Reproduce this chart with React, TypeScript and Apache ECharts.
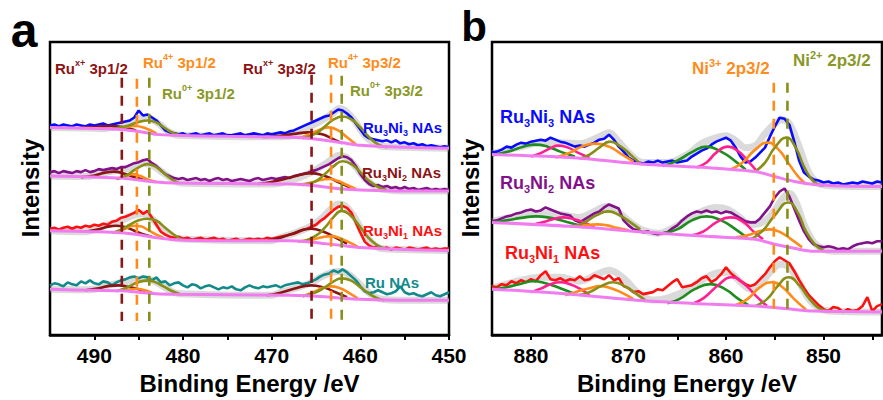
import React, { useEffect, useRef } from 'react';
import * as echarts from 'echarts';

type Pt = [number, number];

const FONT = '"Liberation Sans", Arial, Helvetica, sans-serif';

// ---------- Ru 3p region (panel a), raw spectra sampled every 0.5 eV from 495 eV ----------
const ruStartEV = 495;
const ruStepEV = 0.5;

const ru3ni3RuRaw = [211, 212, 210, 212, 211, 210, 212, 211, 210, 212, 211, 212, 213, 211, 212, 213, 214, 215, 216, 219, 226, 221, 222, 219, 216, 211, 206, 204, 203, 202, 203, 201, 202, 203, 201, 202, 203, 201, 202, 203, 201, 201, 202, 203, 201, 202, 203, 202, 201, 203, 202, 203, 204, 203, 205, 206, 208, 210, 212, 214, 216, 218, 220, 221, 224, 227, 226, 223, 219, 213, 207, 201, 198, 197, 196, 195, 196, 194, 196, 193, 194, 192, 193, 191, 192, 190, 191, 190, 189, 190, 189];
const ru3ni2RuRaw = [164, 165, 163, 165, 164, 163, 165, 164, 166, 164, 165, 167, 166, 167, 168, 167, 169, 169, 171, 173, 174, 176, 177, 173, 170, 166, 162, 160, 158, 157, 158, 156, 157, 158, 156, 157, 155, 157, 158, 156, 157, 155, 156, 157, 156, 155, 157, 158, 156, 157, 158, 157, 158, 159, 158, 160, 161, 162, 163, 165, 166, 168, 170, 172, 175, 178, 180, 179, 176, 170, 162, 156, 152, 150, 151, 149, 150, 148, 149, 147, 149, 147, 148, 146, 147, 148, 146, 147, 146, 147, 146];
const ru3ni1RuRaw = [107, 108, 106, 108, 109, 107, 109, 108, 110, 109, 111, 110, 112, 111, 114, 115, 118, 119, 121, 123, 126, 122, 125, 118, 111, 104, 101, 99, 98, 99, 97, 98, 96, 97, 98, 96, 97, 98, 96, 97, 95, 96, 97, 95, 96, 97, 96, 97, 96, 98, 97, 98, 99, 100, 101, 102, 104, 106, 107, 109, 111, 115, 118, 122, 126, 129, 130, 128, 123, 113, 103, 94, 90, 88, 89, 87, 88, 86, 88, 87, 86, 88, 87, 86, 87, 88, 86, 87, 86, 87, 87];
const ruRuRaw = [50, 52, 51, 49, 53, 51, 50, 54, 52, 55, 52, 51, 54, 53, 50, 53, 55, 56, 58, 59, 57, 59, 58, 55, 58, 53, 54, 50, 52, 53, 50, 48, 51, 50, 47, 49, 50, 48, 46, 48, 47, 49, 46, 45, 48, 50, 48, 47, 49, 48, 49, 50, 48, 50, 51, 52, 53, 51, 52, 54, 56, 59, 61, 62, 65, 63, 66, 63, 59, 55, 49, 44, 42, 43, 45, 43, 41, 42, 44, 49, 43, 41, 42, 40, 39, 41, 43, 40, 39, 41, 43];

// Shirley-type backgrounds (binding energy, intensity)
const ruBgEV = [495, 490, 487, 485, 483, 481, 475, 468, 466, 464, 462, 460, 455, 450];
const ru3ni3RuBg = [209, 208, 207, 205, 202, 201, 200, 199, 198, 196, 193.5, 191, 189, 188];
const ru3ni2RuBg = [160, 159, 158, 156, 154, 153, 152.5, 152, 151, 149, 147, 146, 145, 145];
const ru3ni1RuBg = [105, 104, 103, 101, 98, 96, 95, 95, 94, 92, 90, 88, 86, 85];
const ruRuBg = [46, 45, 44.5, 43, 41.5, 41, 40.5, 40, 39.5, 38.5, 37, 36, 35, 35];

// Fitted components: Ru(x+) 3p1/2, Ru4+ 3p1/2, Ru0 3p1/2, Ru(x+) 3p3/2, Ru4+ 3p3/2, Ru0 3p3/2
const ru3ni3RuFits: Pt[][] = [
  [[491.5, 208.5], [489.8, 209.5], [488.2, 210.5], [486.8, 209.5], [485.3, 206]],
  [[488, 207.5], [486.8, 209], [485.5, 210.5], [484.3, 208.5], [483, 203]],
  [[488, 207.5], [486.5, 210], [485, 214.5], [484, 216], [483, 214], [482, 208], [481, 203], [480, 201]],
  [[471, 199.5], [469, 200.5], [467.5, 202.5], [465.8, 204], [464.3, 202], [463, 197], [462, 193]],
  [[467, 198], [465.5, 203], [464.5, 207], [463.6, 209], [462.5, 206], [461.5, 199], [460.5, 192]],
  [[466.5, 198], [465, 203], [464, 210], [463, 217], [462, 220], [461, 217], [460, 209], [459, 199], [458, 192], [457, 189]],
];
const ru3ni2RuFits: Pt[][] = [
  [[491.5, 159], [490, 160.5], [488.8, 163.5], [487.8, 164.5], [486.5, 162], [485.5, 159], [484.2, 155.5]],
  [[487.5, 157], [486.5, 160], [485.7, 162], [484.8, 160], [483.8, 156], [483, 154]],
  [[487.5, 157], [486.5, 160], [485.5, 166], [484.5, 171], [484, 172], [483.2, 170], [482.3, 164], [481.3, 157], [480.5, 153]],
  [[471.5, 152], [469.5, 155], [467.5, 159.5], [465.6, 163], [464, 160], [462.5, 154], [461, 148]],
  [[467, 151], [465.5, 153.5], [464.5, 156], [463.5, 157], [462.5, 155], [461.5, 151], [460.5, 147]],
  [[466.5, 151], [465, 155], [464, 162], [463, 170], [462, 175], [461, 172], [460, 164], [459, 155], [458, 149], [457, 146]],
];
const ru3ni1RuFits: Pt[][] = [
  [[491, 104], [489.5, 106.5], [488.5, 109], [487.6, 110], [486.5, 108.5], [485.5, 105], [484.5, 101.5], [483.5, 99]],
  [[487.5, 103], [486.5, 107], [485.5, 110], [484.8, 109.5], [484, 106], [483, 101], [482.2, 98]],
  [[488, 103], [487, 106], [486, 111], [485, 115.5], [484, 117], [483, 115], [482, 108], [481, 101], [480.2, 96.5]],
  [[470.5, 95], [469, 98], [467.5, 102.5], [465.6, 107], [464, 103.5], [462.8, 98], [461.5, 92]],
  [[467, 94], [465.5, 96], [464.3, 98.5], [463.3, 99.5], [462.3, 97.5], [461.3, 93.5], [460.3, 89]],
  [[466.5, 94], [465, 100], [464, 108], [463, 119], [462.1, 125], [461.2, 121], [460.2, 111], [459.2, 99], [458.2, 91], [457.2, 87]],
];
const ruRuFits: Pt[][] = [
  [[491, 45], [489.5, 47], [488.3, 49.5], [487.3, 50], [486.2, 48.5], [485, 46], [484, 43]],
  [[487, 44.5], [486, 45.5], [485.3, 46.5], [484.5, 45.5], [483.5, 42.5]],
  [[487.5, 44], [486.5, 47], [485.5, 51.5], [484.5, 54.5], [484, 55], [483.2, 53.5], [482.2, 49], [481.2, 44], [480.3, 41]],
  [[470.5, 40], [469, 42.5], [467.5, 46.5], [465.6, 50], [464, 47.5], [462.8, 43], [461.5, 38]],
  [[466.5, 39], [465.3, 43], [464.2, 47.5], [463.3, 49], [462.3, 47], [461.3, 42.5], [460.3, 37]],
  [[466.5, 39], [465, 43], [464, 48], [463, 54], [462.1, 57], [461.1, 55], [460.1, 49], [459.1, 42], [458.1, 37], [457.3, 35]],
];

// Cumulative fit envelopes
const ru3ni3RuEnvelope: Pt[] = [[495, 209], [491, 208.5], [489, 208], [487, 211], [486, 214], [485, 218], [484.3, 219], [483.5, 217], [482.5, 211], [481.5, 204], [480.5, 201], [470, 199.5], [468, 200], [466.5, 206], [465, 213], [464, 218], [463, 224], [462.4, 228], [461.6, 225], [460.6, 215], [459.6, 202], [458.6, 194], [457.6, 190], [455, 189], [450, 188]];
const ru3ni2RuEnvelope: Pt[] = [[495, 160], [491, 159.5], [490, 160.5], [488, 165], [486.5, 167], [485.2, 171], [484.3, 173], [483.3, 170], [482.2, 163], [481.2, 157], [480.3, 153], [470, 152], [469, 153], [467, 158], [465.5, 164], [464.2, 171], [463.2, 177], [462.4, 181], [461.6, 179], [460.6, 170], [459.6, 159], [458.6, 151], [457.6, 147], [455, 145], [450, 145]];
const ru3ni1RuEnvelope: Pt[] = [[495, 105], [491, 104], [490, 106], [488.5, 111], [487, 115], [485.8, 120], [484.6, 122], [483.6, 118], [482.6, 109], [481.6, 101], [480.6, 97], [470, 95], [469, 98], [467, 104], [465.5, 110], [464.3, 118], [463.3, 127], [462.5, 132], [461.7, 130], [460.7, 119], [459.7, 104], [458.7, 93], [457.7, 87], [455, 86], [450, 85]];
const ruRuEnvelope: Pt[] = [[495, 46], [491, 45.5], [490, 46], [488.5, 50], [487, 52.5], [485.5, 55.5], [484.5, 56.5], [483.5, 55], [482.5, 50.5], [481.5, 45], [480.5, 41.5], [470, 40], [469, 43], [467, 48], [465.5, 53], [464.3, 59], [463.2, 63], [462.4, 64], [461.5, 62], [460.5, 55], [459.5, 46], [458.5, 39], [457.5, 36], [455, 35], [450, 35]];

// Peak position markers (eV) and their vertical extent
const ruMarkEV = [486.9, 485.2, 483.8, 465.5, 463.3, 462.1];
const ruMarkTop = [259, 258, 259, 262, 262, 261];
const ruMarkBottom = 14;

// ---------- Ni 2p region (panel b), raw spectra sampled every 0.5 eV from 884 eV ----------
const niStartEV = 884;
const niStepEV = 0.5;

const ru3ni3NiRaw = [183, 184, 186, 189, 188, 191, 193, 192, 194, 195, 196, 195, 198, 196, 194, 193, 191, 189, 190, 189, 191, 193, 196, 197, 201, 196, 189, 184, 178, 175, 173, 172, 174, 173, 175, 173, 174, 175, 173, 174, 175, 179, 182, 185, 187, 191, 194, 196, 198, 195, 188, 179, 173, 174, 178, 183, 188, 199, 209, 218, 217, 211, 194, 175, 163, 159, 156, 155, 153, 154, 152, 153, 151, 152, 153, 152, 154, 153, 152, 154, 153];
const ru3ni2NiRaw = [114, 115, 117, 119, 120, 122, 123, 125, 126, 124, 125, 128, 126, 124, 122, 121, 120, 115, 113, 116, 119, 122, 124, 128, 131, 129, 127, 115, 110, 106, 105, 103, 104, 102, 101, 102, 103, 107, 110, 115, 119, 122, 124, 123, 125, 123, 124, 122, 124, 123, 120, 117, 114, 113, 113, 117, 123, 129, 138, 144, 147, 139, 127, 115, 104, 96, 91, 89, 88, 89, 88, 86, 87, 86, 89, 91, 92, 93, 92, 94, 94];
const ru3ni1NiRaw = [49, 48, 51, 50, 54, 52, 55, 53, 56, 54, 60, 64, 56, 55, 57, 54, 56, 55, 59, 55, 56, 60, 58, 56, 60, 55, 57, 49, 47, 43, 44, 41, 42, 43, 46, 45, 49, 53, 56, 48, 49, 50, 53, 57, 59, 53, 56, 61, 68, 62, 58, 54, 51, 49, 51, 56, 61, 68, 74, 78, 75, 72, 64, 55, 47, 40, 35, 30, 26, 24, 28, 27, 23, 26, 24, 25, 29, 38, 24, 29, 31];

const niBgEV = [884, 876, 868, 862, 857, 855, 853, 851, 848, 844];
const ru3ni3NiBg = [181, 178, 171, 168, 164, 159, 154, 151, 149.5, 149];
const ru3ni2NiBg = [113, 109, 103, 99, 96, 91, 87, 84, 84, 84];
const ru3ni1NiBg = [46, 41, 34, 31, 29, 27.5, 25.5, 24, 23.5, 23];

// Components: sat., sat., Ni3+ 2p1/2, Ni2+ 2p1/2, sat., sat., Ni3+ 2p3/2, Ni2+ 2p3/2
const ru3ni3NiFits: Pt[][] = [
  [[884, 180.5], [882, 185], [880.8, 189], [879.6, 191], [878.3, 189], [877, 184], [875.5, 179]],
  [[880, 179], [879, 182.5], [878, 187.5], [877.2, 190], [876.2, 188], [875.2, 183], [874, 178]],
  [[877.5, 178], [876, 183], [874.8, 189], [873.4, 192], [872, 189], [870.8, 182], [869.5, 174]],
  [[875, 177], [874, 181], [873, 188], [871.9, 194], [870.8, 189], [869.8, 181], [868.8, 172]],
  [[866.5, 169.5], [865, 175], [863.5, 183.5], [862, 189], [860.5, 184], [859, 174], [858, 166]],
  [[863, 168], [862, 173], [861, 183], [859.8, 189], [858.7, 184], [857.7, 174], [856.8, 164]],
  [[859.5, 166], [858.3, 173], [857, 186], [855.7, 193], [854.6, 186], [853.5, 171], [852.5, 158], [851.7, 151]],
  [[857, 164], [856, 173], [855, 188], [853.8, 198], [852.8, 187], [852, 169], [851, 154], [850, 150]],
];
const ru3ni2NiFits: Pt[][] = [
  [[884, 113], [882.5, 115], [881, 117.5], [879.5, 119], [878, 117.5], [876.5, 114], [875, 110]],
  [[879.5, 111.5], [878.5, 114], [877.5, 117], [876.7, 118], [875.7, 116.5], [874.7, 113.5], [873.5, 108]],
  [[876, 109], [875, 109.5], [874, 110.5], [873.2, 111], [872.2, 110], [871.2, 107.5], [870, 105]],
  [[875.5, 109], [874.5, 113], [873.3, 120], [872.1, 124], [870.9, 120], [869.8, 113], [868.8, 106]],
  [[866.5, 102], [865, 106], [863.5, 115], [862, 119], [860.5, 115], [859, 106], [857.8, 97]],
  [[863.5, 100], [862.3, 104], [861, 113], [859.6, 118], [858.3, 114], [857.2, 104], [856.2, 96]],
  [[859, 98], [857.8, 100], [856.6, 104], [855.5, 106], [854.4, 103], [853.3, 96], [852.2, 88]],
  [[857.5, 96], [856.3, 104], [855, 120], [853.6, 133], [852.6, 122], [851.8, 104], [850.8, 90], [850, 85]],
];
const ru3ni1NiFits: Pt[][] = [
  [[884, 46], [882.5, 48], [881, 51.5], [879.8, 54], [878.5, 52], [877, 47], [875.7, 42]],
  [[880, 43], [879, 46.5], [878, 51], [877, 53], [876, 51], [875, 46.5], [874, 40]],
  [[876.5, 40], [875.3, 43.5], [874, 47], [872.9, 49], [871.8, 47], [870.7, 42.5], [869.5, 36]],
  [[875, 40], [874, 43], [872.8, 49], [871.6, 53], [870.4, 49], [869.3, 42], [868.3, 35]],
  [[866, 32], [864.8, 36], [863.2, 46], [861.6, 51], [860.1, 46], [858.7, 36], [857.7, 30]],
  [[863.5, 31], [862.3, 37], [860.8, 50], [859.4, 58], [858.1, 51], [856.9, 39], [855.8, 29]],
  [[859, 30], [857.8, 36], [856.5, 48], [855.3, 53], [854.2, 48], [853, 36], [851.8, 25.5]],
  [[857, 29], [855.8, 36], [854.7, 49], [853.6, 58], [852.5, 50], [851.5, 37], [850.5, 27], [849.5, 24]],
];

const ru3ni3NiEnvelope: Pt[] = [[884, 182], [881, 189], [879, 193], [877, 193], [875, 192], [873, 199], [872, 203], [871, 194], [870, 183], [868.5, 173], [866, 173], [864, 181], [862.5, 192], [861, 198], [860, 200], [859, 195], [858, 188], [857, 190], [856, 202], [855, 212], [854.3, 216], [853.5, 212], [852.5, 189], [851.5, 163], [850.5, 152], [849, 149.5], [844, 149]];
const ru3ni2NiEnvelope: Pt[] = [[884, 114], [881, 120], [879, 122], [877, 121], [875, 118], [873.5, 124], [872.3, 129], [871, 123], [869.8, 113], [868.5, 105], [867, 102], [865.5, 107], [864, 116], [862.5, 124], [861, 128], [859.8, 126], [858.6, 118], [857.5, 111], [856.5, 112], [855.3, 121], [854.2, 137], [853.5, 142], [852.8, 133], [852, 111], [851, 93], [850, 86], [849, 84], [844, 84]];
const ru3ni1NiEnvelope: Pt[] = [[884, 47], [881, 55], [879, 58], [877, 58], [875, 54], [873.2, 61], [872, 65], [870.5, 57], [869, 42], [867.5, 35], [866, 37], [864, 45], [862.5, 55], [861, 62], [859.8, 63], [858.6, 54], [857.5, 46], [856.4, 52], [855.4, 64], [854.4, 71], [853.5, 68], [852.5, 53], [851.5, 36], [850.5, 27], [849.5, 24], [844, 23]];

const niMarkEV = [855.1, 853.7];
const niMarkTop = 253;
const niMarkBottom = 19;

// Tick positions
const ruTicks = [450, 455, 460, 465, 470, 475, 480, 485, 490];
const ruLabels = [450, 460, 470, 480, 490];
const niTicks = [845, 850, 855, 860, 865, 870, 875, 880];
const niLabels = [850, 860, 870, 880];

// ---------- colours ----------
const C = {
  blue: '#0a0aff',
  purple: '#82118a',
  red: '#ff1010',
  teal: '#138a8a',
  maroon: '#8b1414',
  orange: '#ff8c1a',
  olive: '#878f16',
  oliveText: '#8a9826',
  green: '#1e8c1e',
  magenta: '#ff1f8f',
  pink: '#f07cf0',
  shade: 'rgba(150,150,150,0.35)',
};
const ruFitColors = [C.maroon, C.orange, C.olive, C.maroon, C.orange, C.olive];
const niFitColors = [C.green, C.magenta, C.orange, C.olive, C.green, C.magenta, C.orange, C.olive];

const toPairs = (vals: number[], start: number, step: number): Pt[] =>
  vals.map((v, i) => [start - i * step, v]);
const zipPairs = (xs: number[], ys: number[]): Pt[] => xs.map((x, i) => [x, ys[i]]);

function lineSeries(data: Pt[], color: string, width: number, idx: number, smooth: number | boolean, extra: any = {}) {
  return {
    type: 'line',
    xAxisIndex: idx,
    yAxisIndex: idx,
    data,
    symbol: 'none',
    showSymbol: false,
    silent: true,
    smooth,
    lineStyle: { color, width, ...(extra.lineStyle || {}) },
    ...(extra.z !== undefined ? { z: extra.z } : {}),
  };
}

function spectrumSeries(idx: number, raw: Pt[], bg: Pt[], env: Pt[], fits: Pt[][], fitColors: string[], rawColor: string) {
  const out: any[] = [];
  out.push(lineSeries(env, C.shade, 7, idx, 0.35));
  out.push(lineSeries(raw, rawColor, 2.6, idx, false));
  fits.forEach((f, i) => out.push(lineSeries(f, fitColors[i], 2.6, idx, 0.5)));
  out.push(lineSeries(bg, C.pink, 3, idx, 0.3));
  return out;
}

function richText(size: number, color: string) {
  const base = { fontSize: size, fontWeight: 'bold', fontFamily: FONT, fill: color, lineHeight: size + 5 };
  return {
    n: base,
    sup: { fontSize: Math.round(size * 0.62), fontWeight: 'bold', fontFamily: FONT, fill: color, lineHeight: Math.round(size * 0.62), verticalAlign: 'top' },
    sub: { fontSize: Math.round(size * 0.62), fontWeight: 'bold', fontFamily: FONT, fill: color, lineHeight: Math.round(size * 0.62), verticalAlign: 'bottom' },
  };
}

function label(text: string, x: number, y: number, size: number, color: string) {
  return {
    type: 'text',
    x,
    y,
    silent: true,
    z: 100,
    style: {
      text,
      fill: color,
      font: `bold ${size}px ${FONT}`,
      align: 'left',
      verticalAlign: 'middle',
      rich: richText(size, color),
    },
  };
}

function plainText(text: string, x: number, y: number, size: number, extra: any = {}) {
  return {
    type: 'text',
    x,
    y,
    silent: true,
    z: 100,
    ...extra,
    style: {
      text,
      fill: '#000',
      font: `bold ${size}px ${FONT}`,
      align: 'center',
      verticalAlign: 'middle',
    },
  };
}

function buildOption() {
  const series: any[] = [];

  series.push(...spectrumSeries(0, toPairs(ru3ni3RuRaw, ruStartEV, ruStepEV), zipPairs(ruBgEV, ru3ni3RuBg), ru3ni3RuEnvelope, ru3ni3RuFits, ruFitColors, C.blue));
  series.push(...spectrumSeries(0, toPairs(ru3ni2RuRaw, ruStartEV, ruStepEV), zipPairs(ruBgEV, ru3ni2RuBg), ru3ni2RuEnvelope, ru3ni2RuFits, ruFitColors, C.purple));
  series.push(...spectrumSeries(0, toPairs(ru3ni1RuRaw, ruStartEV, ruStepEV), zipPairs(ruBgEV, ru3ni1RuBg), ru3ni1RuEnvelope, ru3ni1RuFits, ruFitColors, C.red));
  series.push(...spectrumSeries(0, toPairs(ruRuRaw, ruStartEV, ruStepEV), zipPairs(ruBgEV, ruRuBg), ruRuEnvelope, ruRuFits, ruFitColors, C.teal));

  series.push(...spectrumSeries(1, toPairs(ru3ni3NiRaw, niStartEV, niStepEV), zipPairs(niBgEV, ru3ni3NiBg), ru3ni3NiEnvelope, ru3ni3NiFits, niFitColors, C.blue));
  series.push(...spectrumSeries(1, toPairs(ru3ni2NiRaw, niStartEV, niStepEV), zipPairs(niBgEV, ru3ni2NiBg), ru3ni2NiEnvelope, ru3ni2NiFits, niFitColors, C.purple));
  series.push(...spectrumSeries(1, toPairs(ru3ni1NiRaw, niStartEV, niStepEV), zipPairs(niBgEV, ru3ni1NiBg), ru3ni1NiEnvelope, ru3ni1NiFits, niFitColors, C.red));

  // dashed peak-position markers
  ruMarkEV.forEach((e, i) => {
    series.push(lineSeries([[e, ruMarkTop[i]], [e, ruMarkBottom]], ruFitColors[i], 2.6, 0, false, { lineStyle: { type: [10, 8] }, z: 5 }));
  });
  niMarkEV.forEach((e, i) => {
    series.push(lineSeries([[e, niMarkTop], [e, niMarkBottom]], [C.orange, C.olive][i], 2.6, 1, false, { lineStyle: { type: [10, 8] }, z: 5 }));
  });

  const axisCommon = {
    type: 'value',
    inverse: true,
    splitLine: { show: false },
    axisLine: { show: true, onZero: false, lineStyle: { color: '#000', width: 2.5 } },
    axisTick: { show: true, inside: false, length: 5, lineStyle: { color: '#000', width: 2 } },
    axisLabel: { color: '#000', fontSize: 21, fontWeight: 'bold', fontFamily: FONT, margin: 10 },
    name: 'Binding Energy /eV',
    nameLocation: 'middle',
    nameGap: 36,
    nameTextStyle: { color: '#000', fontSize: 24, fontWeight: 'bold', fontFamily: FONT },
  };

  const graphic: any[] = [
    plainText('a', 24, 30, 48),
    plainText('b', 474, 26, 42),
    plainText('Intensity', 30, 188, 24, { rotation: Math.PI / 2 }),
    plainText('Intensity', 470, 188, 24, { rotation: Math.PI / 2 }),

    label('{n|Ru}{sup|x+}{n| 3p1/2}', 55, 68, 15, C.maroon),
    label('{n|Ru}{sup|4+}{n| 3p1/2}', 143, 62, 15, C.orange),
    label('{n|Ru}{sup|0+}{n| 3p1/2}', 162, 93, 15, C.oliveText),
    label('{n|Ru}{sup|x+}{n| 3p3/2}', 243, 68, 15, C.maroon),
    label('{n|Ru}{sup|4+}{n| 3p3/2}', 328, 62, 15, C.orange),
    label('{n|Ru}{sup|0+}{n| 3p3/2}', 350, 90, 15, C.oliveText),

    label('{n|Ru}{sub|3}{n|Ni}{sub|3}{n| NAs}', 363, 127, 15, C.blue),
    label('{n|Ru}{sub|3}{n|Ni}{sub|2}{n| NAs}', 362, 172, 15, C.maroon),
    label('{n|Ru}{sub|3}{n|Ni}{sub|1}{n| NAs}', 363, 230, 15, C.red),
    label('{n|Ru NAs}', 365, 282, 15, C.teal),

    label('{n|Ni}{sup|3+}{n| 2p3/2}', 692, 68, 17, C.orange),
    label('{n|Ni}{sup|2+}{n| 2p3/2}', 793, 60, 17, C.oliveText),

    label('{n|Ru}{sub|3}{n|Ni}{sub|3}{n| NAs}', 500, 117, 18, C.blue),
    label('{n|Ru}{sub|3}{n|Ni}{sub|2}{n| NAs}', 500, 183, 18, C.purple),
    label('{n|Ru}{sub|3}{n|Ni}{sub|1}{n| NAs}', 505, 253, 18, C.red),
  ];

  return {
    animation: false,
    backgroundColor: '#fff',
    grid: [
      { left: 50, top: 42, width: 399, height: 295, show: true, borderColor: '#000', borderWidth: 2.5, backgroundColor: 'transparent' },
      { left: 492, top: 42, width: 390, height: 294, show: true, borderColor: '#000', borderWidth: 2.5, backgroundColor: 'transparent' },
    ],
    xAxis: [
      {
        ...axisCommon,
        gridIndex: 0,
        min: 450,
        max: 495,
        axisTick: { ...axisCommon.axisTick, customValues: ruTicks },
        axisLabel: { ...axisCommon.axisLabel, customValues: ruLabels },
      },
      {
        ...axisCommon,
        gridIndex: 1,
        min: 844,
        max: 884,
        axisTick: { ...axisCommon.axisTick, customValues: niTicks },
        axisLabel: { ...axisCommon.axisLabel, customValues: niLabels },
      },
    ],
    yAxis: [
      { type: 'value', gridIndex: 0, min: 0, max: 295, show: false },
      { type: 'value', gridIndex: 1, min: 0, max: 294, show: false },
    ],
    series,
    graphic,
  };
}

export default function App() {
  const ref = useRef<HTMLDivElement>(null);

  useEffect(() => {
    document.body.style.margin = '0';
    if (!ref.current) return;
    const chart = echarts.init(ref.current, undefined, { renderer: 'svg' });
    chart.setOption(buildOption() as any);
    return () => chart.dispose();
  }, []);

  return <div ref={ref} style={{ width: 883, height: 400 }} />;
}
